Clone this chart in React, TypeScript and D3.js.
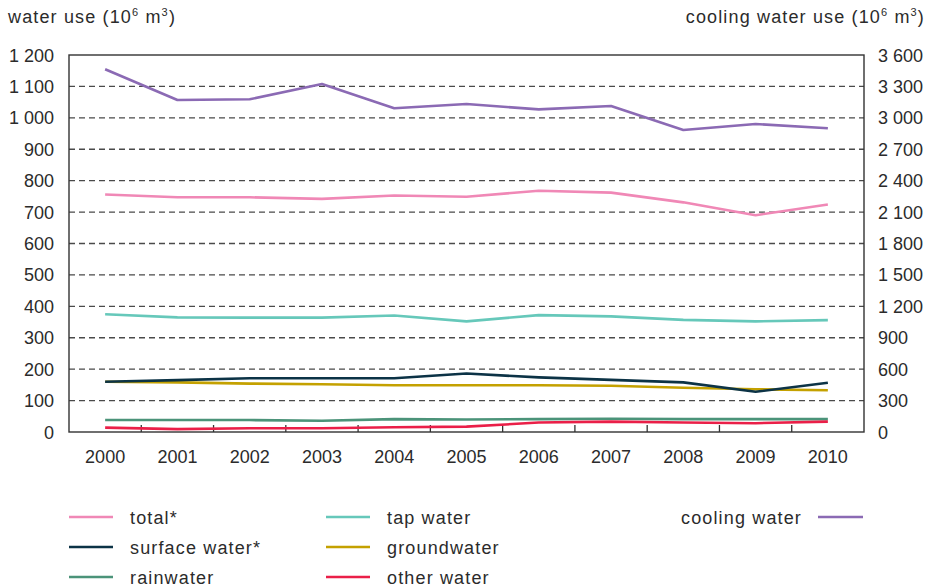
import React from "react";
import * as d3 from "d3";

const years = ["2000","2001","2002","2003","2004","2005","2006","2007","2008","2009","2010"];
const total = [756, 747, 747, 742, 753, 749, 768, 762, 731, 690, 724];
const tapWater = [375, 365, 364, 364, 371, 352, 372, 368, 357, 352, 356];
const surfaceWater = [160, 165, 171, 171, 171, 186, 174, 166, 158, 128, 157];
const groundwater = [160, 158, 154, 152, 149, 149, 149, 147, 141, 136, 133];
const rainwater = [38, 38, 38, 36, 41, 40, 41, 42, 41, 41, 41];
const otherWater = [14, 9, 12, 12, 15, 17, 30, 33, 30, 28, 33];
const coolingWater = [3464, 3170, 3177, 3323, 3091, 3132, 3081, 3113, 2884, 2941, 2900];
const leftTicks = [0,100,200,300,400,500,600,700,800,900,1000,1100,1200];
const rightTicks = [0,300,600,900,1200,1500,1800,2100,2400,2700,3000,3300,3600];

const W = 931, H = 588;
const L = 69, R = 864, T = 55, B = 432;
const FONT = "'Liberation Sans', Arial, sans-serif";
const TXT = "#2b2b2b";
const FS = 18;
const LS = 1.15;

const fmt = (v: number) => {
  const s = String(v);
  return s.length > 3 ? s.slice(0, s.length - 3) + " " + s.slice(-3) : s;
};

const leftSeries = [
  { name: "total*", data: total, color: "#f088b6" },
  { name: "tap water", data: tapWater, color: "#66c8ba" },
  { name: "surface water*", data: surfaceWater, color: "#0c3346" },
  { name: "groundwater", data: groundwater, color: "#c4a100" },
  { name: "rainwater", data: rainwater, color: "#4b9379" },
  { name: "other water", data: otherWater, color: "#ea1f48" },
];
const coolColor = "#8b6ab4";

export default function App() {
  const x = d3.scaleBand<string>().domain(years).range([L, R]).padding(0);
  const cx = (y: string) => (x(y) as number) + x.bandwidth() / 2;
  const yl = d3.scaleLinear().domain([0, 1200]).range([B, T]);
  const yr = d3.scaleLinear().domain([0, 3600]).range([B, T]);
  const lineL = d3.line<number>().x((_, i) => cx(years[i])).y((d) => yl(d));
  const lineR = d3.line<number>().x((_, i) => cx(years[i])).y((d) => yr(d));

  const order = [total, tapWater, surfaceWater, groundwater, rainwater, otherWater];
  const drawOrder = [rainwater, otherWater, groundwater, surfaceWater, tapWater, total];

  const legendPos: Record<string, [number, number]> = {
    "total*": [69, 517],
    "surface water*": [69, 547],
    "rainwater": [69, 577],
    "tap water": [326, 517],
    "groundwater": [326, 547],
    "other water": [326, 577],
  };

  const unit = (
    <>
      (10<tspan fontSize={11} dy={-7}>6</tspan><tspan dy={7}> m</tspan><tspan fontSize={11} dy={-7}>3</tspan><tspan dy={7}>)</tspan>
    </>
  );

  return (
    <svg width={W} height={H} style={{ position: "absolute", left: 0, top: 0, background: "#fff" }} fontFamily={FONT}>
      <rect x={0} y={0} width={W} height={H} fill="#fff" />
      {/* titles */}
      <text x={8} y={23} fontSize={FS} fill={TXT} letterSpacing={LS}>
        water use {unit}
      </text>
      <text x={925} y={23} fontSize={FS} fill={TXT} letterSpacing={LS} textAnchor="end">
        cooling water use {unit}
      </text>
      {/* gridlines */}
      {leftTicks.filter((t) => t > 0 && t < 1200).map((t) => (
        <line key={"g" + t} x1={L} x2={R} y1={yl(t)} y2={yl(t)} stroke="#4a4a4a" strokeWidth={1.3} strokeDasharray="6,4" />
      ))}
      {/* left tick labels */}
      {leftTicks.map((t) => (
        <text key={"l" + t} x={54} y={yl(t) + 6.5} fontSize={FS} fill={TXT} textAnchor="end">{fmt(t)}</text>
      ))}
      {rightTicks.map((t) => (
        <text key={"r" + t} x={878} y={yr(t) + 6.5} fontSize={FS} fill={TXT}>{fmt(t)}</text>
      ))}
      {/* x tick marks */}
      {years.slice(1).map((y) => (
        <line key={"t" + y} x1={x(y) as number} x2={x(y) as number} y1={B} y2={B - 7} stroke="#333" strokeWidth={1.3} />
      ))}
      {years.map((y) => (
        <text key={"x" + y} x={cx(y)} y={463} fontSize={FS} fill={TXT} textAnchor="middle">{y}</text>
      ))}
      {/* series */}
      {drawOrder.map((d, i) => {
        const s = leftSeries[order.indexOf(d)];
        return <path key={"s" + i} d={lineL(d) || ""} fill="none" stroke={s.color} strokeWidth={2.6} strokeLinejoin="round" />;
      })}
      <path d={lineR(coolingWater) || ""} fill="none" stroke={coolColor} strokeWidth={2.6} strokeLinejoin="round" />
      {/* frame */}
      <rect x={L} y={T} width={R - L} height={B - T} fill="none" stroke="#333" strokeWidth={1.4} />
      {/* legend */}
      {leftSeries.map((s) => {
        const [lx, ly] = legendPos[s.name];
        return (
          <g key={"lg" + s.name}>
            <line x1={lx} x2={lx + 44} y1={ly} y2={ly} stroke={s.color} strokeWidth={2.6} />
            <text x={lx + 61} y={ly + 7} fontSize={FS} fill={TXT} letterSpacing={LS}>{s.name}</text>
          </g>
        );
      })}
      <text x={681} y={524} fontSize={FS} fill={TXT} letterSpacing={LS}>cooling water</text>
      <line x1={818} x2={863} y1={517} y2={517} stroke={coolColor} strokeWidth={2.6} />
    </svg>
  );
}
